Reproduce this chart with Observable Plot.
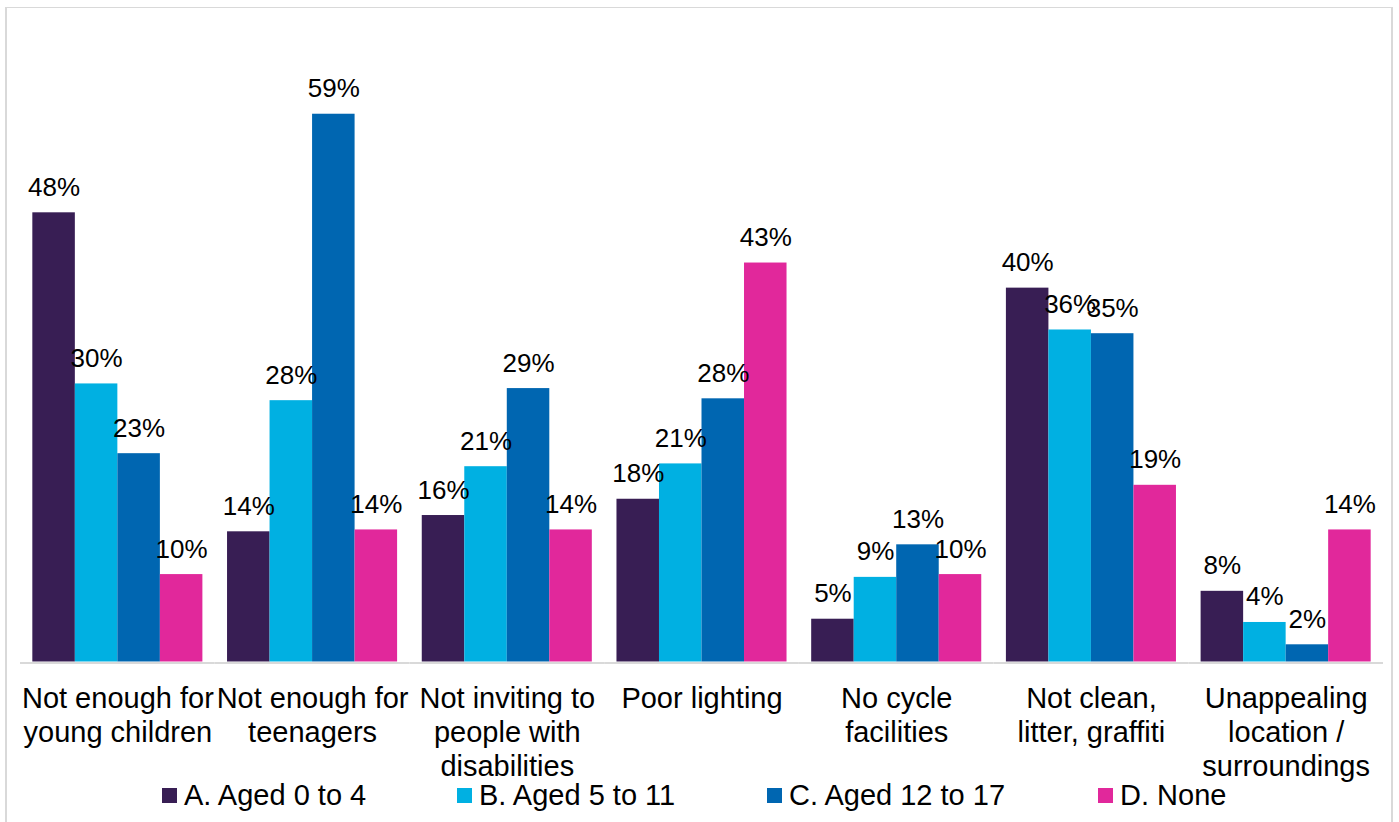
<!DOCTYPE html>
<html>
<head>
<meta charset="utf-8">
<script src="https://cdn.jsdelivr.net/npm/d3@7"></script>
<script src="https://cdn.jsdelivr.net/npm/@observablehq/plot@0.6"></script>
<style>
  html, body { margin: 0; padding: 0; background: #fff; }
  body { width: 1399px; height: 822px; position: relative; overflow: hidden; font-family: "Liberation Sans", Arial, sans-serif; }
  #frame { position: absolute; left: 5px; top: 7px; width: 1384px; height: 900px; border: 2px solid #d9d9d9; border-top-width: 1px; box-sizing: content-box; }
  #chart { position: absolute; left: 0; top: 0; }
  .leg { position: absolute; top: 781px; font-size: 29px; line-height: 29px; color: #000; white-space: nowrap; }
  .leg .sw { position: absolute; left: 0; top: 7px; width: 15px; height: 15px; }
  .leg .tx { position: absolute; left: 22px; top: 0; }
</style>
</head>
<body>
<div id="frame"></div>
<div id="chart"></div>
<div id="legend"></div>
<script>
const categories = [
  "Not enough for young children",
  "Not enough for teenagers",
  "Not inviting to people with disabilities",
  "Poor lighting",
  "No cycle facilities",
  "Not clean, litter, graffiti",
  "Unappealing location / surroundings"
];
const tickLabels = [
  "Not enough for\nyoung children",
  "Not enough for\nteenagers",
  "Not inviting to\npeople with\ndisabilities",
  "Poor lighting",
  "No cycle\nfacilities",
  "Not clean,\nlitter, graffiti",
  "Unappealing\nlocation /\nsurroundings"
];
const series = ["A. Aged 0 to 4", "B. Aged 5 to 11", "C. Aged 12 to 17", "D. None"];
const colors = ["#381e54", "#00b0e2", "#0066b1", "#e1289b"];

const valuesA = [48.3, 14.0, 15.75, 17.5, 4.6, 40.2, 7.6];
const valuesB = [29.9, 28.1, 21.0, 21.3, 9.1, 35.7, 4.25];
const valuesC = [22.4, 58.9, 29.4, 28.3, 12.6, 35.3, 1.85];
const valuesD = [9.4, 14.2, 14.2, 42.9, 9.4, 19.0, 14.2];

const labelsA = ["48%", "14%", "16%", "18%", "5%", "40%", "8%"];
const labelsB = ["30%", "28%", "21%", "21%", "9%", "36%", "4%"];
const labelsC = ["23%", "59%", "29%", "28%", "13%", "35%", "2%"];
const labelsD = ["10%", "14%", "14%", "43%", "10%", "19%", "14%"];

const allValues = [valuesA, valuesB, valuesC, valuesD];
const allLabels = [labelsA, labelsB, labelsC, labelsD];

const data = [];
categories.forEach((c, i) => {
  series.forEach((s, j) => {
    data.push({category: c, series: s, value: allValues[j][i], label: allLabels[j][i]});
  });
});

const tickMap = new Map(categories.map((c, i) => [c, tickLabels[i]]));

const chart = Plot.plot({
  width: 1399,
  height: 822,
  marginLeft: 20,
  marginRight: 16,
  marginTop: 10.5,
  marginBottom: 160.5,
  style: {fontFamily: "'Liberation Sans', Arial, sans-serif", color: "#000", background: "transparent"},
  fx: {domain: categories, padding: 0, round: false, label: null},
  x: {domain: series, paddingInner: 0, paddingOuter: 0.29, round: false, axis: null},
  y: {domain: [0, 70], axis: null},
  color: {domain: series, range: colors},
  marks: [
    Plot.barY(data, {fx: "category", x: "series", y: "value", fill: "series", insetLeft: 0, insetRight: 0}),
    Plot.ruleY([0], {stroke: "#d9d9d9", strokeWidth: 2, dy: 1}),
    Plot.text(data, {fx: "category", x: "series", y: "value", text: "label", lineAnchor: "bottom", dy: -17, fontSize: 26, fill: "#000"}),
    Plot.axisFx({anchor: "bottom", tickSize: 0, tickPadding: 22, fontSize: 29, lineHeight: 1.17, tickFormat: d => tickMap.get(d), label: null, fill: "#000"})
  ]
});
document.getElementById("chart").appendChild(chart);

const legendX = [162, 457, 767, 1098];
const legend = document.getElementById("legend");
series.forEach((s, j) => {
  const item = document.createElement("div");
  item.className = "leg";
  item.style.left = legendX[j] + "px";
  const sw = document.createElement("div");
  sw.className = "sw";
  sw.style.background = colors[j];
  const tx = document.createElement("div");
  tx.className = "tx";
  tx.textContent = s;
  item.appendChild(sw);
  item.appendChild(tx);
  legend.appendChild(item);
});
</script>
</body>
</html>
